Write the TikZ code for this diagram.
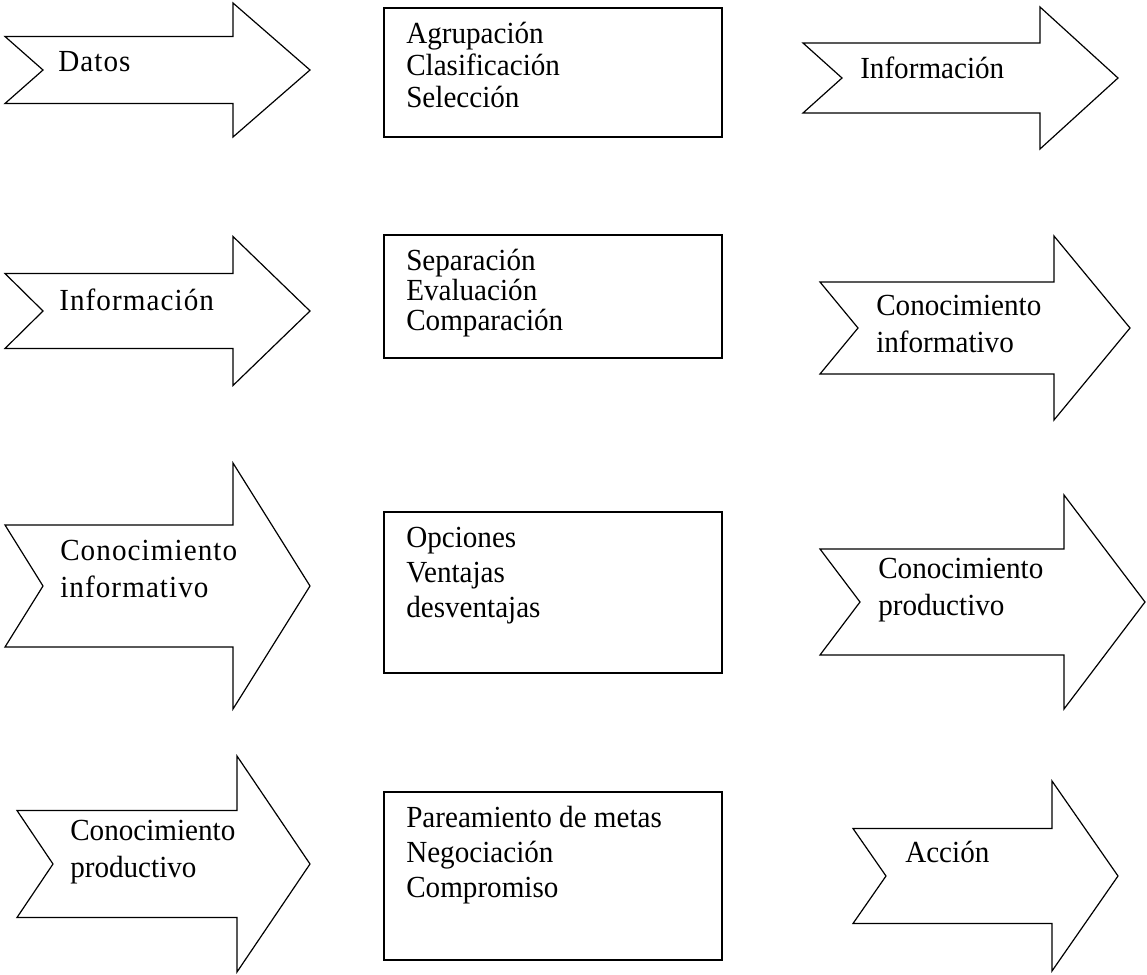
\documentclass[tikz,border=0pt]{standalone}
\usepackage{fontspec}
\setmainfont{Liberation Serif}[FakeStretch=0.95]
\newfontfamily\spacedfont{Liberation Serif}[FakeStretch=0.95,LetterSpace=3.5]
\tikzset{
  px/.style={x=0.75pt,y=-0.75pt},
  arr/.style={draw=black,line width=0.9pt,line join=miter,fill=white},
  procbox/.style={draw=black,line width=0.9pt,fill=white},
  boxtext/.style={anchor=base west,inner sep=0pt,align=left,font=\fontsize{23}{#1}\selectfont},
  boxtext/.default=24.75pt,
  arrtext/.style={anchor=base west,inner sep=0pt,align=left,font=\fontsize{23}{27.75}\selectfont},
  widetext/.style={anchor=base west,inner sep=0pt,align=left,font=\fontsize{23}{27.75}\spacedfont},
}
% xl, notch x, head base x, tip x, centre y, shaft half height, head half height
\newcommand\blockarrow[7]{%
  \draw[arr] (#1,{#5-#6}) -- (#3,{#5-#6}) -- (#3,{#5-#7}) -- (#4,#5) -- (#3,{#5+#7}) -- (#3,{#5+#6}) -- (#1,{#5+#6}) -- (#2,#5) -- cycle;}
\begin{document}
\begin{tikzpicture}[px]
\useasboundingbox (0,0) rectangle (1147,975);
% row 1
\blockarrow{5}{43}{233}{310}{70}{33.5}{67}
\node[widetext] (a1) at (58,71) {Datos};
\draw[procbox] (384,8) rectangle (722,137);
\node[boxtext=24pt] (b1) at (406,107) {Agrupación\\Clasificación\\Selección};
\blockarrow{803}{842}{1040}{1118}{78}{35}{71}
\node[arrtext] (a2) at (860,78) {Información};
% row 2
\blockarrow{5}{43}{233}{310}{311}{37.5}{74.5}
\node[widetext] (a3) at (59,310) {Información};
\draw[procbox] (384,235) rectangle (722,358);
\node[boxtext=22.5pt] (b2) at (406,330) {Separación\\Evaluación\\Comparación};
\blockarrow{820}{858}{1054}{1130}{328}{46}{92}
\node[arrtext] (a4) at (876,352) {Conocimiento\\informativo};
% row 3
\blockarrow{5}{43}{233}{310}{586}{61}{123}
\node[widetext] (a5) at (60,597) {Conocimiento\\informativo};
\draw[procbox] (384,512) rectangle (722,673);
\node[boxtext=26.25pt] (b3) at (406,617) {Opciones\\Ventajas\\desventajas};
\blockarrow{820}{860}{1064}{1145}{602}{53}{107}
\node[arrtext] (a6) at (878,615) {Conocimiento\\productivo};
% row 4
\blockarrow{17}{53}{237}{310}{864}{53.5}{108}
\node[arrtext] (a7) at (70,877) {Conocimiento\\productivo};
\draw[procbox] (384,792) rectangle (722,960);
\node[boxtext=26.25pt] (b4) at (406,897) {Pareamiento de metas\\Negociación\\Compromiso};
\blockarrow{853}{886}{1052}{1118}{876}{47.5}{95}
\node[arrtext] (a8) at (905,862) {Acción};
\end{tikzpicture}
\end{document}
